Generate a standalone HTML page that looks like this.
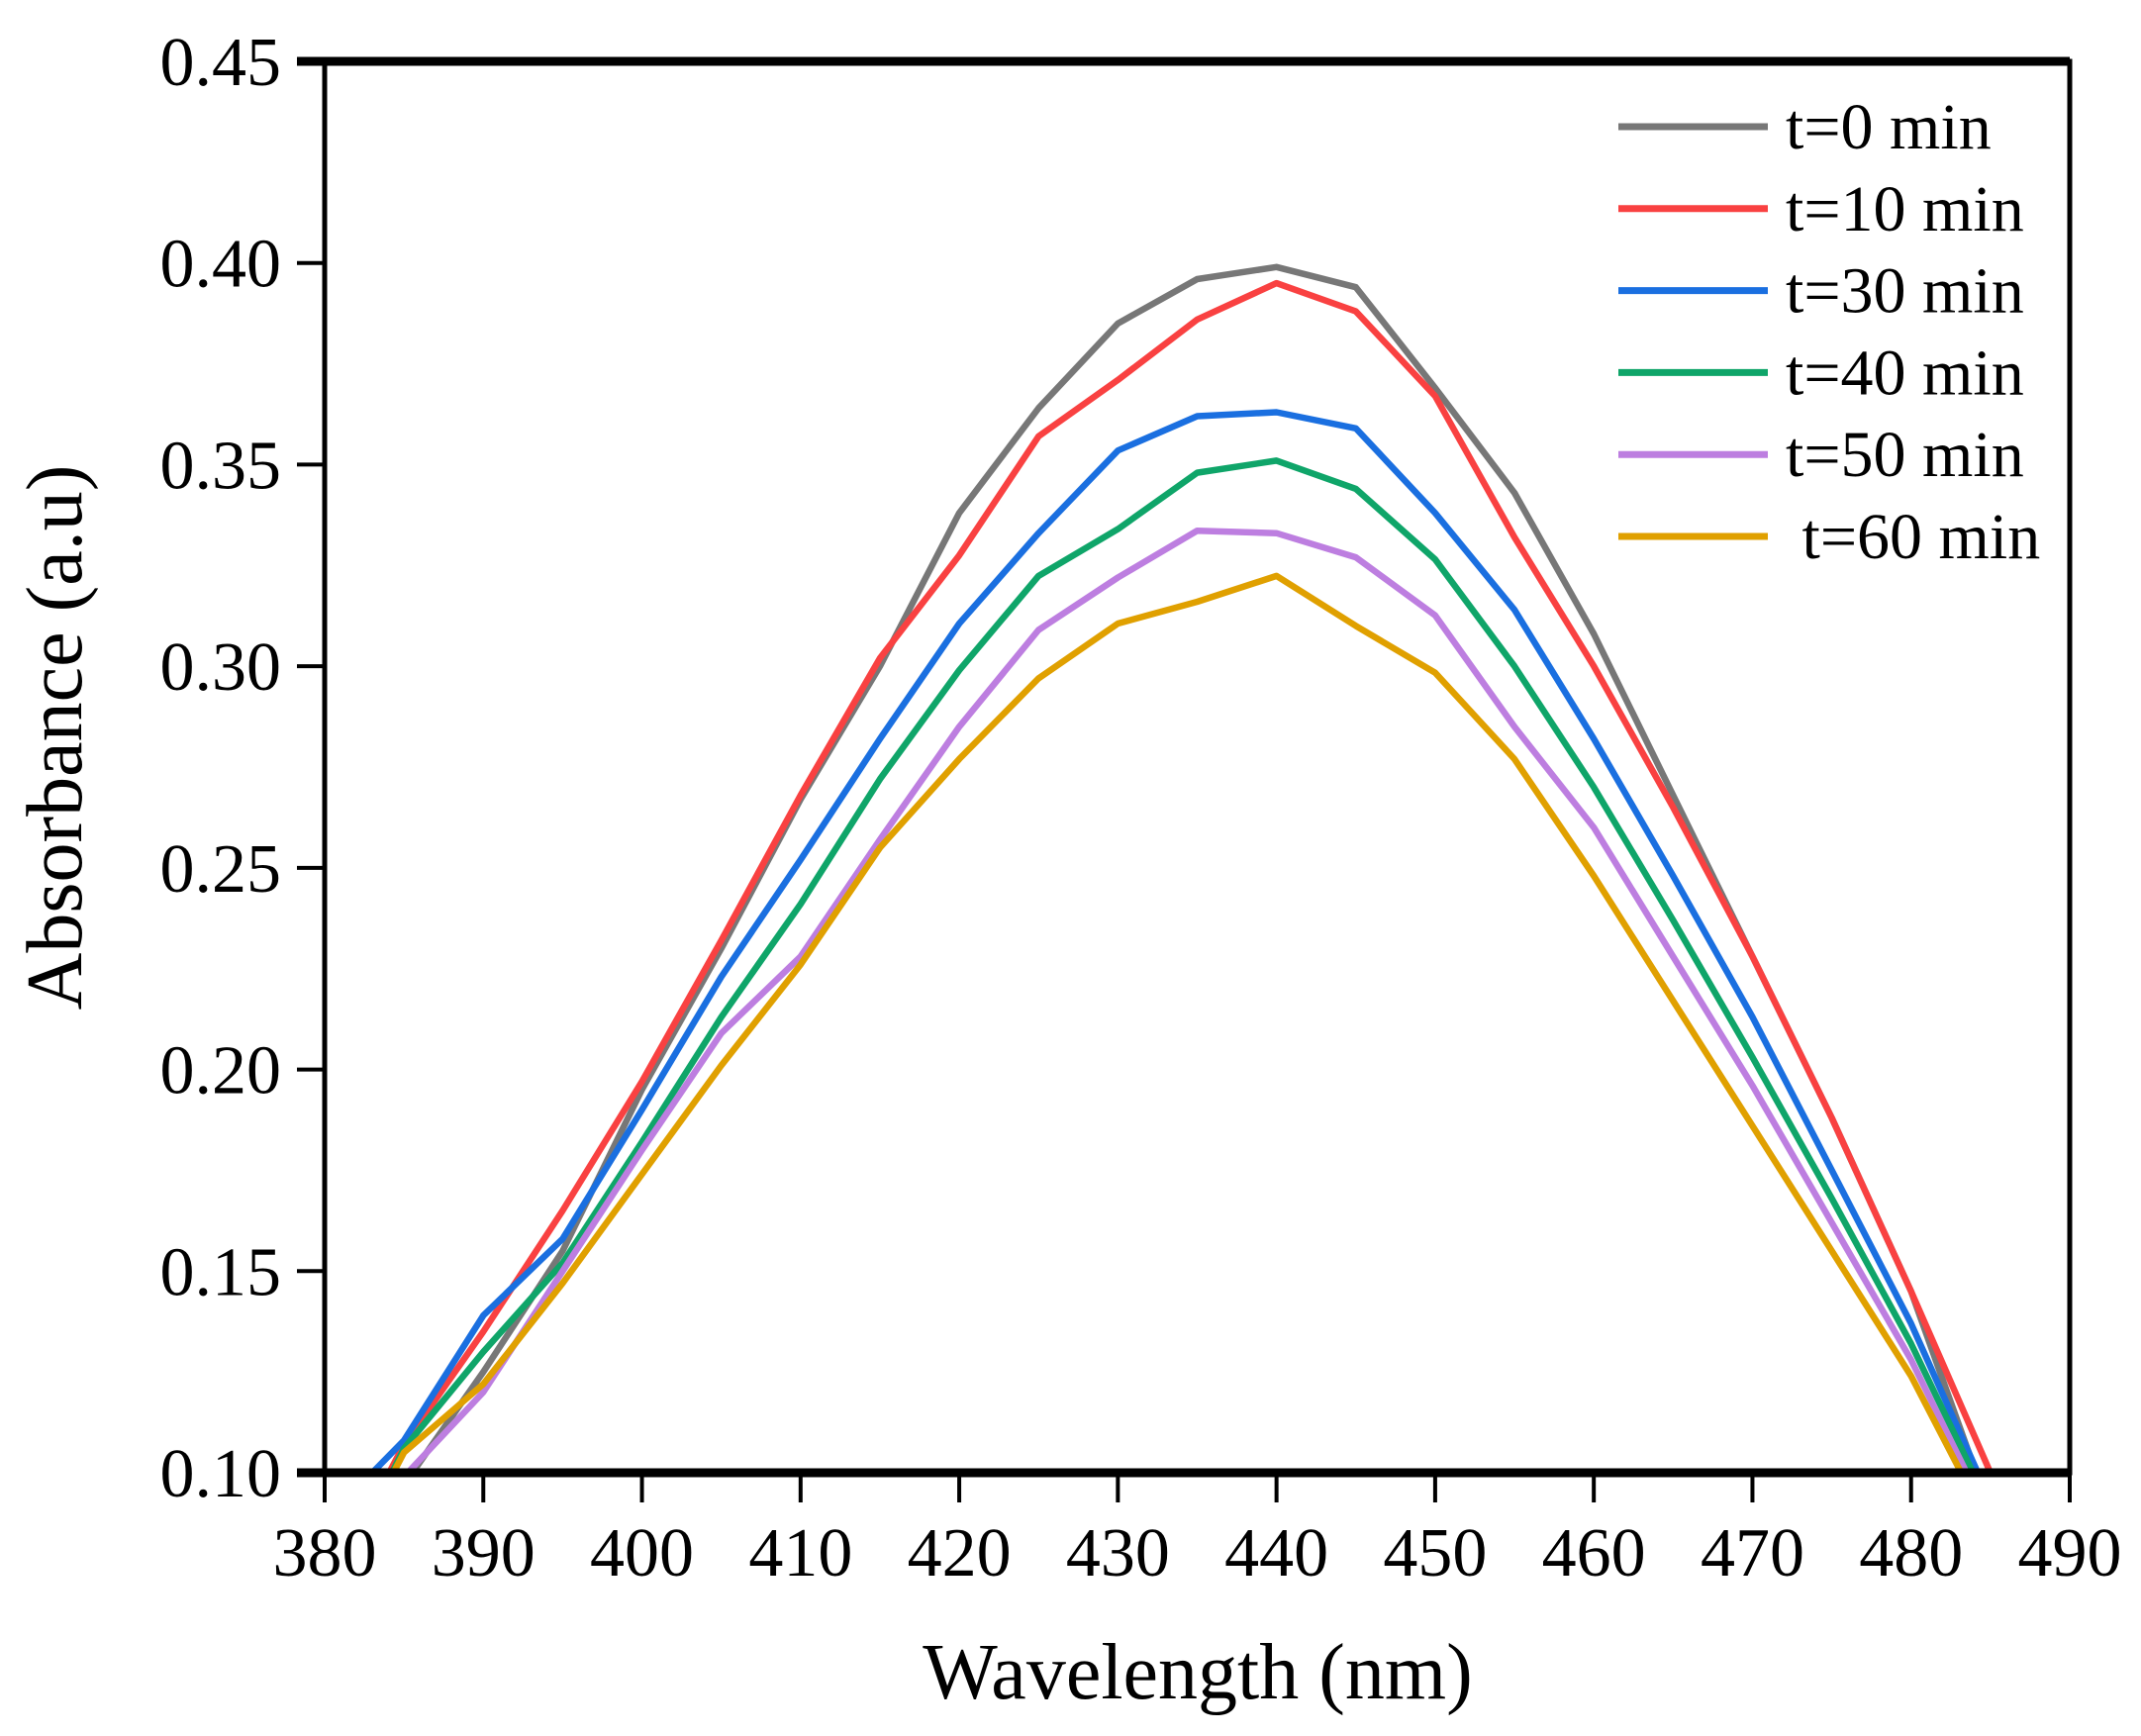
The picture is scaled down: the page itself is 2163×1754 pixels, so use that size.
<!DOCTYPE html>
<html><head><meta charset="utf-8"><style>
html,body{margin:0;padding:0;background:#fff}
svg{display:block}
text{font-family:"Liberation Serif",serif;fill:#000}
</style></head><body>
<svg id="chart" width="2163" height="1754" viewBox="0 0 2163 1754">
<defs><clipPath id="plotclip"><rect x="328" y="62" width="1763" height="1426"/></clipPath></defs>
<g id="series" clip-path="url(#plotclip)"></g>
<g id="axes"></g>
<g id="legend"></g>
<text x="1210" y="1716" text-anchor="middle" font-size="80">Wavelength (nm)</text>
<text transform="translate(82,745) rotate(-90)" text-anchor="middle" font-size="80">Absorbance (a.u)</text>
</svg>
<script>
const wl = [383,385,390,395,400,405,410,415,420,425,430,435,440,445,450,455,460,465,470,475,480,485];
const t0  = [0.080,0.097,0.125,0.155,0.195,0.230,0.267,0.300,0.338,0.364,0.385,0.396,0.399,0.394,0.369,0.343,0.308,0.268,0.228,0.188,0.145,0.090];
const t10 = [0.092,0.107,0.135,0.165,0.197,0.232,0.268,0.302,0.3275,0.357,0.371,0.386,0.395,0.388,0.367,0.332,0.300,0.265,0.228,0.188,0.145,0.100];
const t30 = [0.100,0.108,0.139,0.158,0.190,0.223,0.252,0.282,0.3106,0.333,0.3535,0.362,0.363,0.359,0.338,0.314,0.282,0.248,0.213,0.175,0.137,0.093];
const t40 = [0.090,0.106,0.130,0.152,0.182,0.213,0.241,0.272,0.299,0.3224,0.334,0.348,0.351,0.344,0.3265,0.300,0.270,0.237,0.203,0.168,0.132,0.091];
const t50 = [0.085,0.099,0.120,0.150,0.180,0.209,0.228,0.257,0.285,0.309,0.322,0.3336,0.333,0.327,0.3126,0.285,0.260,0.228,0.196,0.162,0.128,0.088];
const t60 = [0.090,0.105,0.122,0.147,0.174,0.201,0.226,0.255,0.277,0.297,0.3106,0.316,0.3224,0.310,0.2984,0.277,0.248,0.217,0.186,0.155,0.124,0.086];
const seriesNames = ["t=0 min","t=10 min","t=30 min","t=40 min","t=50 min"," t=60 min"];
const colors = ["#777777","#f94141","#1a6fe0","#0fa569","#bd7ee0","#e0a000"];
const xTicks = [380,390,400,410,420,430,440,450,460,470,480,490];
const yTicks = [0.10,0.15,0.20,0.25,0.30,0.35,0.40,0.45];

const NS="http://www.w3.org/2000/svg";
const X0=328,X1=2091,Y0=1488,Y1=62;
function sx(v){return X0+(v-380)/(490-380)*(X1-X0);}
function sy(v){return Y0-(v-0.10)/(0.45-0.10)*(Y0-Y1);}
function mk(tag,attrs,parent){const e=document.createElementNS(NS,tag);for(const k in attrs)e.setAttribute(k,attrs[k]);parent.appendChild(e);return e;}

const sg=document.getElementById('series');
const all=[t0,t10,t30,t40,t50,t60];
all.forEach((arr,i)=>{
  const d=arr.map((v,j)=>(j?'L':'M')+sx(wl[j]).toFixed(1)+','+sy(v).toFixed(1)).join(' ');
  const p=mk('path',{d:d,fill:'none',stroke:colors[i],'stroke-width':6.5,'stroke-linejoin':'round'},sg);
  
  
});
const ax=document.getElementById('axes');
const frame=mk('path',{d:`M${X0},${Y1} L${X1},${Y1} L${X1},${Y0} L${X0},${Y0} Z`,fill:'none',stroke:'#000','stroke-width':5},ax);


mk('line',{x1:X0-28,y1:Y0,x2:X1,y2:Y0,stroke:'#000','stroke-width':9},ax);
mk('line',{x1:X0-28,y1:Y1,x2:X1,y2:Y1,stroke:'#000','stroke-width':9},ax);
xTicks.forEach(v=>{
  const x=sx(v);
  mk('line',{x1:x,y1:Y0,x2:x,y2:Y0+30,stroke:'#000','stroke-width':4},ax);
  const t=mk('text',{x:x,y:1592,'text-anchor':'middle','font-size':70},ax);
  t.textContent=v;
  
  
});
yTicks.forEach(v=>{
  const y=sy(v);
  mk('line',{x1:X0-28,y1:y,x2:X0,y2:y,stroke:'#000','stroke-width':4},ax);
  const t=mk('text',{x:284,y:y+24,'text-anchor':'end','font-size':70},ax);
  t.textContent=v.toFixed(2);
  
  
});
const lg=document.getElementById('legend');
seriesNames.forEach((n,i)=>{
  const y=128+i*82.8;
  const l=mk('line',{x1:1635,y1:y,x2:1786,y2:y,stroke:colors[i],'stroke-width':7},lg);
  
  
  const t=mk('text',{x:1804,y:y+22,'font-size':66},lg);
  t.setAttribute('xml:space','preserve');
  t.style.whiteSpace='pre';
  t.textContent=n;
  
  
});
</script>
</body></html>
